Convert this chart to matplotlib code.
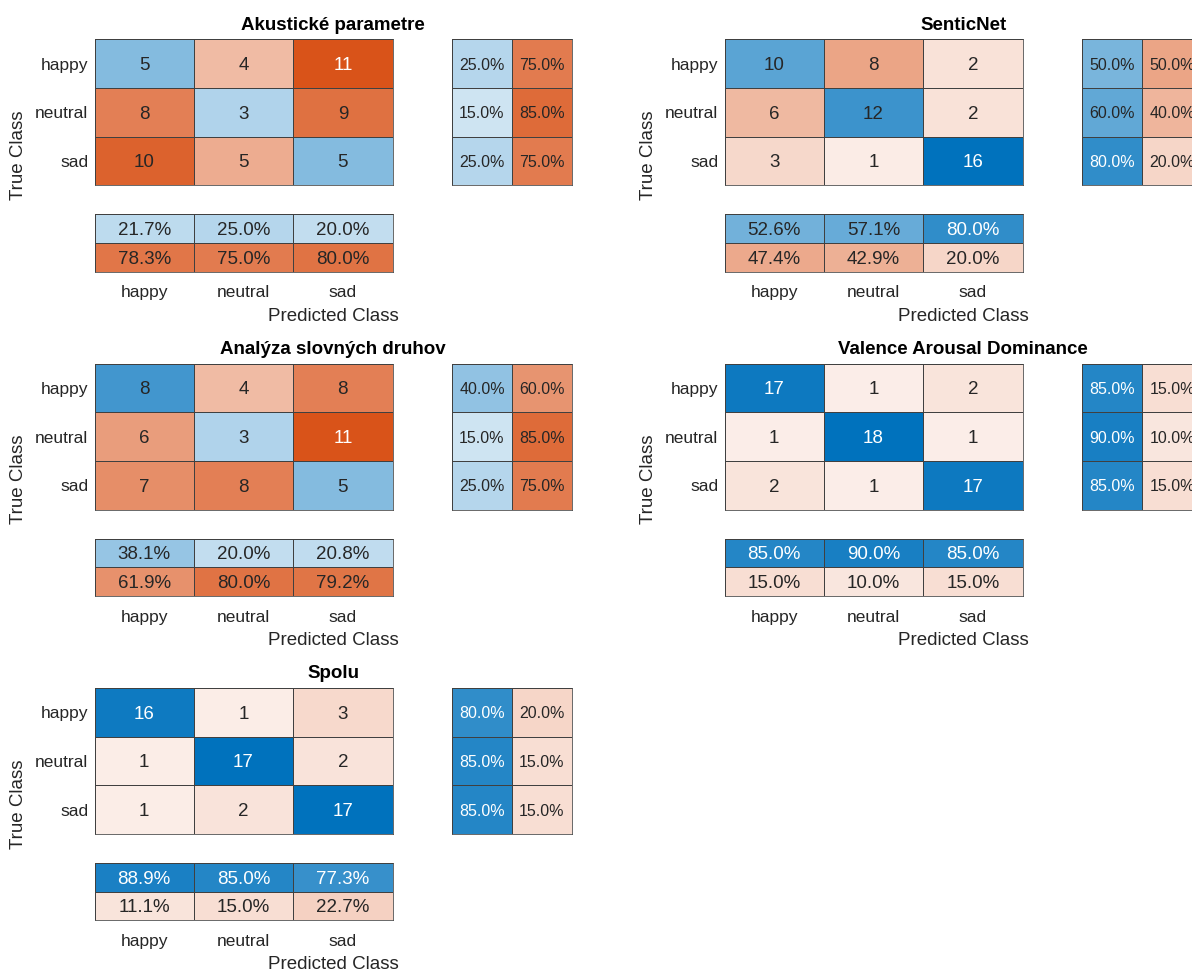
import numpy as np
import matplotlib
matplotlib.use("Agg")
import matplotlib.pyplot as plt
from matplotlib.colors import LinearSegmentedColormap, Normalize

plt.rcParams['font.family'] = ['Liberation Sans', 'DejaVu Sans']

classes = ["happy", "neutral", "sad"]

titles = ["Akustické parametre", "SenticNet", "Analýza slovných druhov",
          "Valence Arousal Dominance", "Spolu"]

# confusion counts, rows = true class, columns = predicted class
akusticke = [[5, 4, 11], [8, 3, 9], [10, 5, 5]]
senticnet = [[10, 8, 2], [6, 12, 2], [3, 1, 16]]
analyza = [[8, 4, 8], [6, 3, 11], [7, 8, 5]]
vad = [[17, 1, 2], [1, 18, 1], [2, 1, 17]]
spolu = [[16, 1, 3], [1, 17, 2], [1, 2, 17]]

matrices = [akusticke, senticnet, analyza, vad, spolu]

W, H = 1192, 974
EDGE = '#404040'
TXT = '#262626'
LW = 0.55
cmap_good = LinearSegmentedColormap.from_list("good", ["white", (0.0, 0.447, 0.741)])
cmap_bad = LinearSegmentedColormap.from_list("bad", ["white", (0.85, 0.325, 0.098)])

fig = plt.figure(figsize=(W / 100, H / 100), dpi=100)
fig.patch.set_facecolor('white')


def px_axes(x, y, w, h):
    return fig.add_axes([x / W, 1 - (y + h) / H, w / W, h / H])


def heat(ax, vals, good, vmax, fmt, fs):
    vals = np.asarray(vals, float)
    nr, nc = vals.shape
    # small tint offset so that even the lowest counts are not pure white
    norm = Normalize(vmin=-0.055 * vmax, vmax=vmax)
    for cmap, mask in ((cmap_good, ~good), (cmap_bad, good)):
        ax.pcolormesh(np.ma.masked_array(vals, mask), cmap=cmap, norm=norm,
                      edgecolors=EDGE, linewidth=LW)
    for i in range(nr):
        for j in range(nc):
            cmap = cmap_good if good[i, j] else cmap_bad
            r, g, b, _ = cmap(norm(vals[i, j]))
            lum = 0.299 * r + 0.587 * g + 0.114 * b
            ax.text(j + 0.5, i + 0.5, fmt(vals[i, j]), ha='center', va='center_baseline',
                    fontsize=fs, color='white' if lum < 0.5 else TXT)
    ax.set_xlim(0, nc)
    ax.set_ylim(nr, 0)
    ax.tick_params(length=0, labelsize=12.5, labelcolor=TXT)
    ax.set_xticks([])
    ax.set_yticks([])
    for s in ax.spines.values():
        s.set_color(EDGE)
        s.set_linewidth(LW)


col_x = [94.5, 724.5]
row_y = [39.3, 363.6, 687.9]
pct = lambda v: f"{v:.1f}%"

for k, (title, cm) in enumerate(zip(titles, matrices)):
    cm = np.array(cm, float)
    x0 = col_x[k % 2]
    y0 = row_y[k // 2]
    n = len(classes)
    diag = np.eye(n, dtype=bool)

    # main matrix
    ax = px_axes(x0, y0, 298, 146)
    heat(ax, cm, diag, cm.max(), lambda v: f"{int(v)}", 13.5)
    ax.set_yticks(np.arange(n) + 0.5)
    ax.set_yticklabels(classes)
    ax.tick_params(axis='y', pad=4.5)

    # row summary: true positive / false negative rates
    tpr = np.diag(cm) / cm.sum(axis=1) * 100
    rs = np.column_stack([tpr, 100 - tpr])
    axr = px_axes(x0 + 357.5, y0, 120, 146)
    heat(axr, rs, np.array([[True, False]] * n), 100, pct, 11.5)

    # column summary: precision / false discovery rate
    ppv = np.diag(cm) / cm.sum(axis=0) * 100
    cs = np.vstack([ppv, 100 - ppv])
    axc = px_axes(x0, y0 + 175, 298, 57.2)
    heat(axc, cs, np.array([[True] * n, [False] * n]), 100, pct, 13.5)
    axc.set_xticks(np.arange(n) + 0.5)
    axc.set_xticklabels(classes)
    axc.tick_params(axis='x', pad=10)

    cx = (x0 + x0 + 477.5) / 2
    fig.text(cx / W, 1 - (y0 - 14) / H, title, ha='center', va='center',
             fontsize=13.5, fontweight='bold', color='black')
    fig.text(cx / W, 1 - (y0 + 277) / H, "Predicted Class", ha='center', va='center',
             fontsize=13.5, color=TXT)
    fig.text((x0 - 76) / W, 1 - (y0 + 116) / H, "True Class", ha='center', va='center',
             rotation=90, fontsize=13.5, color=TXT)

fig.savefig("out.png", dpi=100, facecolor='white')
